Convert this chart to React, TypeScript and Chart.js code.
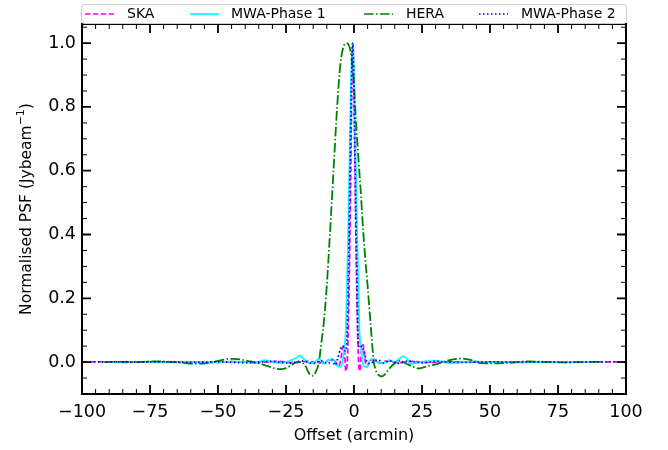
import React, { useEffect, useRef } from "react";
import { Chart, registerables } from "chart.js";

Chart.register(...registerables);

const X_TICKS = [-100, -75, -50, -25, 0, 25, 50, 75, 100];
const Y_TICKS = [0, 0.2, 0.4, 0.6, 0.8, 1.0];
const SERIES_NAMES = ["SKA", "MWA-Phase 1", "HERA", "MWA-Phase 2"];

const SKA_X = [-100, -92, -84, -76, -68, -60, -52, -44, -36, -28, -22, -17, -13, -10, -8.5, -7, -5.6, -4.8, -4.1, -3.5, -3.0, -2.5, -2.0, -1.4, -0.9, -0.4, 0.1, 0.6, 1.2, 1.7, 2.2, 2.7, 3.3, 4.0, 4.8, 5.6, 6.6, 8, 9.5, 12, 16, 21, 27, 34, 42, 50, 60, 70, 80, 90, 100];
const SKA_Y = [0, 0.001, -0.001, 0.001, 0, 0.001, -0.001, 0.001, -0.001, 0.002, -0.002, 0.003, -0.003, 0.004, 0.008, 0.003, -0.012, 0.01, 0.05, 0.03, -0.028, 0.0, 0.15, 0.45, 0.8, 1.0, 0.8, 0.45, 0.15, 0.0, -0.028, 0.03, 0.055, 0.01, -0.015, 0.0, 0.008, 0.003, -0.003, 0.004, -0.002, 0.002, -0.001, 0.001, 0, 0.001, -0.001, 0.001, 0, 0.001, 0];

const MWA1_X = [-90, -80, -70, -60, -50, -45, -40, -36, -33, -30, -27, -24, -21.5, -20, -18.5, -16.5, -14.5, -13, -11, -9.8, -8, -6.2, -5, -4.2, -3.5, -3.0, -2.2, -1.5, -1.0, -0.5, 0.0, 0.5, 1.2, 2.0, 2.5, 3.2, 4, 5, 6, 7.5, 9, 10.9, 13, 15, 16.5, 18.3, 19.5, 20.7, 23, 26, 30.5, 35.4, 40, 45, 50, 60, 70, 80, 90];
const MWA1_Y = [0, 0.001, -0.001, 0.001, -0.001, 0.002, 0.0, -0.003, 0.006, 0.0, -0.003, 0.003, 0.012, 0.02, 0.01, -0.004, 0.0, 0.01, -0.006, 0.004, 0.01, -0.012, -0.015, 0.0, 0.05, 0.1, 0.38, 0.7, 0.9, 1.0, 0.9, 0.7, 0.38, 0.1, 0.05, 0.0, -0.015, -0.012, 0.008, 0.01, -0.004, -0.003, 0.006, 0.0, 0.01, 0.018, 0.01, -0.005, -0.002, 0.002, 0.004, -0.004, 0.0, 0.002, -0.001, 0.001, 0, 0.001, 0];

const HERA_X = [-92, -85, -80, -75, -71, -66, -61, -57, -54, -50, -47, -44, -41, -38, -35, -32, -29.5, -27, -25, -23.3, -21, -19.5, -18, -16.5, -15.3, -14, -12.9, -12, -11.1, -10, -9, -8, -7.4, -6.2, -5, -4, -2.8, -1.3, 0, 0.55, 1.77, 2.6, 3.0, 4, 5, 6.05, 7.3, 8, 9, 10.3, 11.5, 13, 14.6, 16, 17, 18.5, 19.5, 21.5, 23.8, 26.9, 30.5, 34.2, 37, 39, 42.8, 46.4, 51, 55, 60, 64, 70, 76, 82, 88, 92];
const HERA_Y = [0, 0.001, 0, 0.002, 0.002, 0, -0.004, -0.005, -0.003, 0.004, 0.009, 0.01, 0.007, 0.002, -0.004, -0.012, -0.019, -0.022, -0.019, -0.011, 0.0, 0.0, -0.01, -0.035, -0.043, -0.03, 0.0, 0.06, 0.124, 0.24, 0.38, 0.53, 0.62, 0.8, 0.935, 0.985, 1.0, 0.975, 0.87, 0.78, 0.62, 0.52, 0.46, 0.34, 0.24, 0.124, 0.0, -0.025, -0.04, -0.045, -0.037, -0.02, -0.006, 0.002, 0.004, -0.002, -0.006, -0.014, -0.02, -0.013, -0.006, 0.004, 0.009, 0.011, 0.007, -0.003, -0.004, -0.003, 0.0, 0.002, 0.001, -0.001, 0, 0.001, 0];

const MWA2_X = [-100, -90, -80, -70, -60, -50, -40, -30, -24, -19, -15, -12, -9.5, -8, -7, -6, -5, -4, -3.2, -2.6, -2.0, -1.4, -0.9, -0.5, -0.1, 0.4, 1.0, 1.5, 2.1, 3.0, 3.8, 4.8, 6, 7.5, 9, 11, 13, 16, 20, 25, 30, 40, 50, 60, 70, 80, 90, 100];
const MWA2_Y = [0, 0.001, 0, 0.001, -0.001, 0.001, -0.002, 0.002, -0.003, 0.003, -0.004, 0.004, -0.004, 0.006, -0.01, 0.01, 0.04, 0.05, 0.035, 0.07, 0.3, 0.62, 0.9, 1.0, 0.9, 0.62, 0.3, 0.07, 0.045, 0.05, 0.03, 0.0, -0.005, 0.004, 0.006, -0.003, 0.004, -0.004, 0.003, -0.002, 0.002, -0.001, 0.001, 0, 0.001, -0.001, 0.001, 0];

const FONT = "'DejaVu Sans', 'Liberation Sans', sans-serif";

const pts = (xs: number[], ys: number[]) => xs.map((x, i) => ({ x, y: ys[i] }));

const STYLES = [
  { color: "#ff00ff", dash: [5.5, 2.4], order: 4 },
  { color: "#00ffff", dash: [], order: 3 },
  { color: "#008000", dash: [9.6, 2.4, 1.5, 2.4], order: 2 },
  { color: "#0000ff", dash: [1.5, 2.5], order: 1 },
];

const LEGEND_POS = [
  { line: 85, text: 127 },
  { line: 190, text: 231 },
  { line: 364, text: 406 },
  { line: 479, text: 521 },
];

const framePlugin = {
  id: "frame",
  afterDatasetsDraw(chart: any) {
    const { ctx, chartArea: a, scales } = chart;
    const xs = scales.x;
    const ys = scales.y;
    ctx.save();
    ctx.strokeStyle = "#000";
    for (let k = -20; k <= 20; k++) {
      const px = xs.getPixelForValue(k * 5);
      const major = k % 5 === 0;
      const len = major ? 9 : 5;
      ctx.lineWidth = major ? 1.8 : 1;
      ctx.beginPath();
      ctx.moveTo(px, a.bottom);
      ctx.lineTo(px, a.bottom - len);
      ctx.moveTo(px, a.top);
      ctx.lineTo(px, a.top + len);
      ctx.stroke();
    }
    for (let k = -2; k <= 21; k++) {
      const py = ys.getPixelForValue(k * 0.05);
      if (py < a.top - 0.5 || py > a.bottom + 0.5) continue;
      const major = k % 4 === 0;
      const len = major ? 9 : 5;
      ctx.lineWidth = major ? 1.8 : 1;
      ctx.beginPath();
      ctx.moveTo(a.left, py);
      ctx.lineTo(a.left + len, py);
      ctx.moveTo(a.right, py);
      ctx.lineTo(a.right - len, py);
      ctx.stroke();
    }
    ctx.lineWidth = 2;
    ctx.strokeRect(a.left, a.top, a.right - a.left, a.bottom - a.top);

    ctx.fillStyle = "#000";
    ctx.font = `16px ${FONT}`;
    ctx.textAlign = "center";
    ctx.textBaseline = "middle";
    ctx.fillText("Offset (arcmin)", (a.left + a.right) / 2, 436);

    ctx.save();
    ctx.translate(27, (a.top + a.bottom) / 2);
    ctx.rotate(-Math.PI / 2);
    const p1 = "Normalised PSF (Jybeam";
    const sup = "\u22121";
    const p3 = ")";
    ctx.font = `15.5px ${FONT}`;
    const w1 = ctx.measureText(p1).width;
    const w3 = ctx.measureText(p3).width;
    ctx.font = `11px ${FONT}`;
    const w2 = ctx.measureText(sup).width;
    const total = w1 + w2 + w3;
    let cx = -total / 2;
    ctx.textAlign = "left";
    ctx.font = `15.5px ${FONT}`;
    ctx.fillText(p1, cx, 0);
    cx += w1;
    ctx.font = `11px ${FONT}`;
    ctx.fillText(sup, cx, -6);
    cx += w2;
    ctx.font = `15.5px ${FONT}`;
    ctx.fillText(p3, cx, 0);
    ctx.restore();

    const lx = a.left - 1;
    const ly = 4;
    const lw = a.right - a.left + 1;
    const lh = 19;
    ctx.fillStyle = "rgba(255,255,255,0.9)";
    ctx.strokeStyle = "#cccccc";
    ctx.lineWidth = 1;
    ctx.beginPath();
    ctx.roundRect(lx + 0.5, ly + 0.5, lw, lh, 3);
    ctx.fill();
    ctx.stroke();
    ctx.font = `14px ${FONT}`;
    ctx.textBaseline = "middle";
    ctx.textAlign = "left";
    SERIES_NAMES.forEach((name, i) => {
      const s = STYLES[i];
      const pos = LEGEND_POS[i];
      const yy = ly + lh / 2 + 0.5;
      ctx.strokeStyle = s.color;
      ctx.lineWidth = 1.7;
      ctx.setLineDash(s.dash);
      ctx.beginPath();
      ctx.moveTo(pos.line, yy);
      ctx.lineTo(pos.line + 29, yy);
      ctx.stroke();
      ctx.setLineDash([]);
      ctx.fillStyle = "#000";
      ctx.fillText(name, pos.text, yy + 0.5);
    });
    ctx.restore();
  },
};

export default function App() {
  const ref = useRef<HTMLCanvasElement>(null);
  useEffect(() => {
    if (!ref.current) return;
    const series = [pts(SKA_X, SKA_Y), pts(MWA1_X, MWA1_Y), pts(HERA_X, HERA_Y), pts(MWA2_X, MWA2_Y)];
    const chart = new Chart(ref.current, {
      type: "line",
      data: {
        datasets: SERIES_NAMES.map((name, i) => ({
          label: name,
          data: series[i],
          borderColor: STYLES[i].color,
          backgroundColor: STYLES[i].color,
          borderDash: STYLES[i].dash,
          borderWidth: 1.8,
          pointRadius: 0,
          fill: false,
          cubicInterpolationMode: "monotone",
          order: STYLES[i].order,
        })),
      },
      options: {
        responsive: false,
        animation: false,
        layout: { padding: { left: 0, top: 24, right: 42, bottom: 0 } },
        plugins: { legend: { display: false }, tooltip: { enabled: false } },
        scales: {
          x: {
            type: "linear",
            min: -100,
            max: 100,
            grid: { display: false, drawTicks: false },
            border: { display: false },
            afterBuildTicks: (s: any) => {
              s.ticks = X_TICKS.map((v) => ({ value: v }));
            },
            afterFit: (s: any) => {
              s.height = 56;
            },
            ticks: {
              autoSkip: false,
              maxRotation: 0,
              padding: 8,
              color: "#000",
              font: { family: FONT, size: 17.5 },
              callback: (v: any) => String(v).replace("-", "\u2212"),
            },
          },
          y: {
            type: "linear",
            min: -0.1,
            max: 1.06,
            grid: { display: false, drawTicks: false },
            border: { display: false },
            afterBuildTicks: (s: any) => {
              s.ticks = Y_TICKS.map((v) => ({ value: v }));
            },
            afterFit: (s: any) => {
              s.width = 82;
            },
            ticks: {
              autoSkip: false,
              padding: 6,
              color: "#000",
              font: { family: FONT, size: 17.5 },
              callback: (v: any) => Number(v).toFixed(1),
            },
          },
        },
      },
      plugins: [framePlugin],
    });
    return () => chart.destroy();
  }, []);
  return (
    <div style={{ position: "fixed", left: 0, top: 0, width: 668, height: 450, background: "#fff" }}>
      <canvas ref={ref} width={668} height={450} style={{ display: "block" }} />
    </div>
  );
}
